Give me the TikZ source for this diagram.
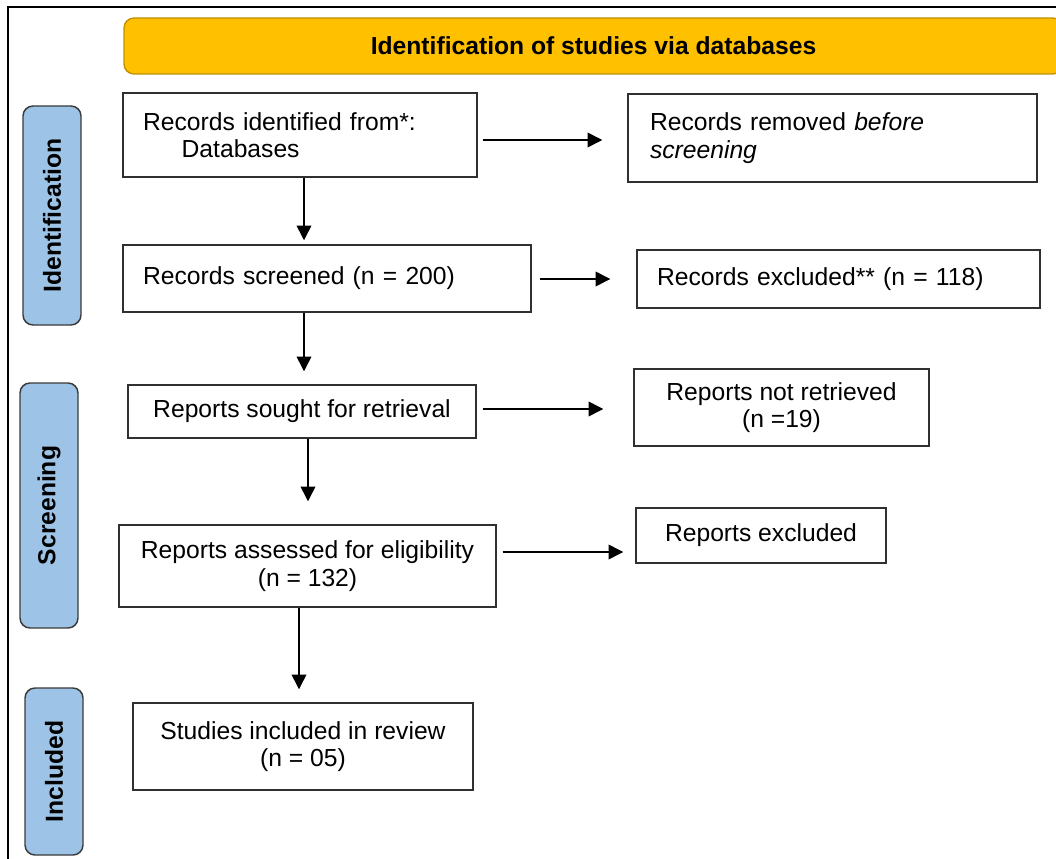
\documentclass[tikz,border=0pt]{standalone}
\usepackage{fontspec}
\setmainfont{Liberation Sans}
\usetikzlibrary{arrows.meta}
\definecolor{bannerfill}{HTML}{FFC000}
\definecolor{bannerdraw}{HTML}{BF9000}
\definecolor{phasefill}{HTML}{9DC3E6}
\definecolor{phasedraw}{HTML}{3A3A3A}
\definecolor{boxdraw}{HTML}{303030}
\tikzset{
  every node/.style={font=\fontsize{18.5}{20.5}\selectfont},
  pbox/.style={draw=boxdraw, line width=1.1pt, fill=white, inner sep=0pt, rectangle},
  phase/.style={draw=phasedraw, line width=1.1pt, fill=phasefill, rounded corners=7.5pt, rotate=90, inner sep=0pt, font=\fontsize{18.5}{20.5}\selectfont\bfseries},
  arr/.style={line width=1.1pt, -{Triangle[length=11pt,width=11pt]}},
}
\begin{document}
\begin{tikzpicture}[x=0.75pt,y=-0.75pt]
\useasboundingbox (0,0) rectangle (1056,859);
% frame
\draw[line width=1.5pt] (8,859) -- (8,7) -- (1060,7);
% banner
\node[draw=bannerdraw, line width=1pt, fill=bannerfill, rounded corners=7.5pt, minimum width=704.25pt, minimum height=42pt, inner sep=0pt, font=\fontsize{18.5}{20.5}\selectfont\bfseries] (banner) at (593.5,46) {Identification of studies via databases};
% phases
\node[phase, minimum width=164.25pt, minimum height=43.5pt] (ph1) at (52,215.5) {Identification};
\node[phase, minimum width=183.75pt, minimum height=43.5pt] (ph2) at (49,505.5) {Screening};
\node[phase, minimum width=125.25pt, minimum height=43.5pt] (ph3) at (54,771.5) {Included};
% boxes
\node[pbox, minimum width=265.5pt, minimum height=63pt, text width=235.5pt, align=left] (b1) at (300,135) {Records identified from*:\\\hspace*{29pt}Databases};
\node[pbox, minimum width=306.75pt, minimum height=66pt, text width=273.75pt, align=left] (b2) at (832.5,138) {Records removed \emph{before}\\\emph{screening}};
\node[pbox, minimum width=306pt, minimum height=50.25pt, text width=276pt, align=left] (b3) at (327,278.5) {Records screened (n = 200)};
\node[pbox, minimum width=302.25pt, minimum height=43.5pt, text width=272.25pt, align=left] (b4) at (838.5,279) {Records excluded** (n = 118)};
\node[pbox, minimum width=261pt, minimum height=39.75pt, align=center] (b5) at (302,411.5) {Reports sought for retrieval};
\node[pbox, minimum width=221.25pt, minimum height=57.75pt, align=center] (b6) at (781.5,407.5) {Reports not retrieved\\(n =19)};
\node[pbox, minimum width=282.75pt, minimum height=61.5pt, align=center] (b7) at (307.5,566) {Reports assessed for eligibility\\(n = 132)};
\node[pbox, minimum width=187.5pt, minimum height=41.25pt, align=center] (b8) at (761,535.5) {Reports excluded};
\node[pbox, minimum width=255pt, minimum height=65.25pt, align=center] (b9) at (303,746.5) {Studies included in review\\(n = 05)};
% arrow guide coordinates
\coordinate (v1) at (304,0);
\coordinate (v2) at (304,0);
\coordinate (v3) at (308,0);
\coordinate (v4) at (299,0);
\coordinate (h1) at (0,140);
\coordinate (h2) at (0,279);
\coordinate (h3) at (0,409);
\coordinate (h4) at (0,552);
% vertical arrows
\draw[arr, shorten >=3pt] (b1.south -| v1) -- (b3.north -| v1);
\draw[arr, shorten >=9.75pt] (b3.south -| v2) -- (b5.north -| v2);
\draw[arr, shorten >=17.25pt] (b5.south -| v3) -- (b7.north -| v3);
\draw[arr, shorten >=9.75pt] (b7.south -| v4) -- (b9.north -| v4);
% horizontal arrows
\draw[arr, shorten <=3.75pt, shorten >=18.75pt] (b1.east |- h1) -- (b2.west |- h1);
\draw[arr, shorten <=6pt, shorten >=19.5pt] (b3.east |- h2) -- (b4.west |- h2);
\draw[arr, shorten <=4.5pt, shorten >=22.5pt] (b5.east |- h3) -- (b6.west |- h3);
\draw[arr, shorten <=4.5pt, shorten >=9pt] (b7.east |- h4) -- (b8.west |- h4);
\end{tikzpicture}
\end{document}
